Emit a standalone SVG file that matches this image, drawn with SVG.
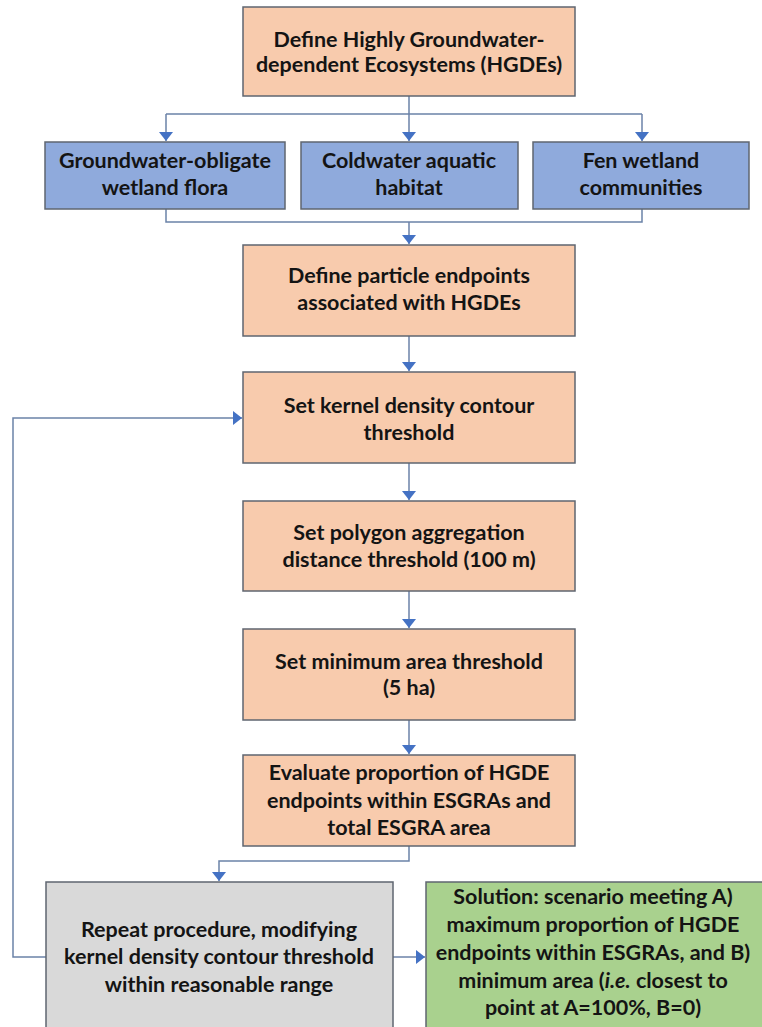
<svg xmlns="http://www.w3.org/2000/svg" width="762" height="1027" viewBox="0 0 762 1027">
<defs>
<marker id="arr" markerWidth="9" markerHeight="14" refX="9" refY="7" orient="auto" markerUnits="userSpaceOnUse">
<path d="M0,0 L9,7 L0,14 Z" fill="#4472C4"/>
</marker>
<style>
.box{stroke:#5f6670;stroke-width:1.5}
.or{fill:#F8CBAD}
.bl{fill:#8FAADC}
.gr{fill:#D9D9D9}
.gn{fill:#A9D18E}
.t{font-family:Lato,"Liberation Sans",sans-serif;font-weight:700;font-size:21.5px;fill:#141414;text-anchor:middle}
.c{fill:none;stroke:#6b82a8;stroke-width:1.5}
</style>
</defs>
<rect width="762" height="1027" fill="#ffffff"/>
<g id="connectors">
<path class="c" d="M409,96 V114 M166,114 H642 M166,114 V141" marker-end="url(#arr)"/>
<path class="c" d="M409,114 V141" marker-end="url(#arr)"/>
<path class="c" d="M642,114 V141" marker-end="url(#arr)"/>
<path class="c" d="M166,209 V222 H642 V209"/>
<path class="c" d="M409,222 V244" marker-end="url(#arr)"/>
<path class="c" d="M409,336 V371" marker-end="url(#arr)"/>
<path class="c" d="M409,463 V500" marker-end="url(#arr)"/>
<path class="c" d="M409,591 V628" marker-end="url(#arr)"/>
<path class="c" d="M409,720 V754" marker-end="url(#arr)"/>
<path class="c" d="M409,846 V861 H219 V881" marker-end="url(#arr)"/>
<path class="c" d="M393,957 H425" marker-end="url(#arr)"/>
<path class="c" d="M46,957 H13 V418 H242" marker-end="url(#arr)"/>
</g>
<g id="n1"><rect class="box or" x="243" y="7" width="332" height="89"/>
<text class="t" x="409" y="47">Define Highly Groundwater-</text>
<text class="t" x="409" y="72">dependent Ecosystems (HGDEs)</text></g>
<g id="n2"><rect class="box bl" x="45" y="142" width="240" height="67"/>
<text class="t" x="165" y="168">Groundwater-obligate</text>
<text class="t" x="165" y="195">wetland flora</text></g>
<g id="n3"><rect class="box bl" x="301" y="142" width="217" height="67"/>
<text class="t" x="409" y="168">Coldwater aquatic</text>
<text class="t" x="409" y="195">habitat</text></g>
<g id="n4"><rect class="box bl" x="533" y="142" width="216" height="67"/>
<text class="t" x="641" y="168">Fen wetland</text>
<text class="t" x="641" y="195">communities</text></g>
<g id="n5"><rect class="box or" x="243" y="245" width="332" height="91"/>
<text class="t" x="409" y="283">Define particle endpoints</text>
<text class="t" x="409" y="310">associated with HGDEs</text></g>
<g id="n6"><rect class="box or" x="243" y="372" width="332" height="91"/>
<text class="t" x="409" y="413">Set kernel density contour</text>
<text class="t" x="409" y="440">threshold</text></g>
<g id="n7"><rect class="box or" x="243" y="501" width="332" height="90"/>
<text class="t" x="409" y="540">Set polygon aggregation</text>
<text class="t" x="409" y="567">distance threshold (100 m)</text></g>
<g id="n8"><rect class="box or" x="243" y="629" width="332" height="91"/>
<text class="t" x="409" y="669">Set minimum area threshold</text>
<text class="t" x="409" y="695">(5 ha)</text></g>
<g id="n9"><rect class="box or" x="243" y="755" width="332" height="91"/>
<text class="t" x="409" y="780">Evaluate proportion of HGDE</text>
<text class="t" x="409" y="808">endpoints within ESGRAs and</text>
<text class="t" x="409" y="835">total ESGRA area</text></g>
<g id="n10"><rect class="box gr" x="46" y="882" width="347" height="150"/>
<text class="t" x="219" y="937">Repeat procedure, modifying</text>
<text class="t" x="219" y="964">kernel density contour threshold</text>
<text class="t" x="219" y="992">within reasonable range</text></g>
<g id="n11"><rect class="box gn" x="426" y="882" width="340" height="150"/>
<text class="t" x="593" y="904">Solution: scenario meeting A)</text>
<text class="t" x="593" y="932">maximum proportion of HGDE</text>
<text class="t" x="593" y="960">endpoints within ESGRAs, and B)</text>
<text class="t" x="593" y="988">minimum area (<tspan font-style="italic">i.e.</tspan> closest to</text>
<text class="t" x="593" y="1015">point at A=100%, B=0)</text></g>
</svg>
